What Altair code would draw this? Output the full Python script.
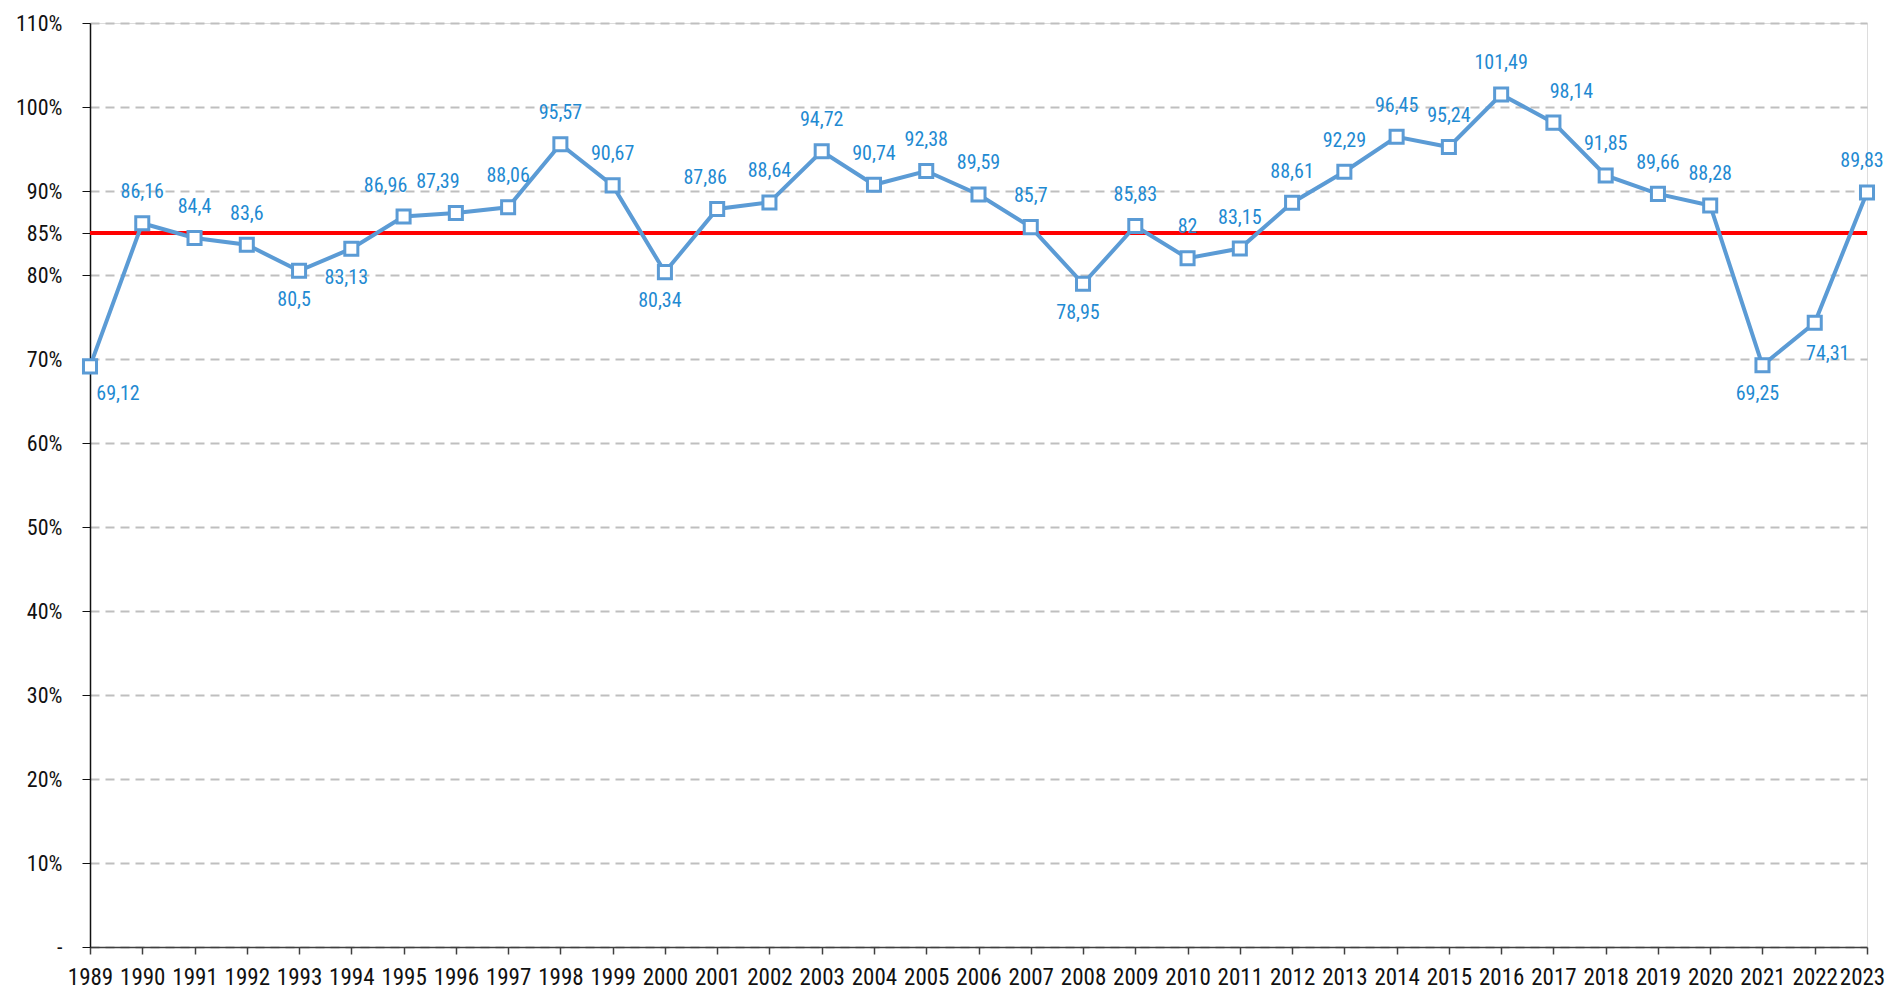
import altair as alt
import pandas as pd

years = list(range(1989, 2024))
values = [69.12, 86.16, 84.4, 83.6, 80.5, 83.13, 86.96, 87.39, 88.06, 95.57,
          90.67, 80.34, 87.86, 88.64, 94.72, 90.74, 92.38, 89.59, 85.7, 78.95,
          85.83, 82, 83.15, 88.61, 92.29, 96.45, 95.24, 101.49, 98.14, 91.85,
          89.66, 88.28, 69.25, 74.31, 89.83]
target = [85]
y_ticks = [0, 10, 20, 30, 40, 50, 60, 70, 80, 85, 90, 100, 110]

def fmt(v):
    return ('{:g}'.format(v)).replace('.', ',')

df = pd.DataFrame({'year': years, 'value': values,
                   'label': [fmt(v) for v in values]})
tdf = pd.DataFrame({'t': target})

FONT = "Liberation Sans Narrow, Arial Narrow, Roboto Condensed, DejaVu Sans Condensed, sans-serif"
BLUE = '#5b9bd5'
LBLUE = '#1f8ad2'

xs = alt.X('year:Q', scale=alt.Scale(domain=[1989, 2023], nice=False, zero=False),
           axis=alt.Axis(values=years, format='d', title=None, grid=False,
                         domainColor='#404040', domainWidth=1.5, tickColor='#404040',
                         tickSize=7, tickWidth=1.5, labelFontSize=23, labelFont=FONT,
                         labelColor='#111111', labelPadding=12, labelFlush=False,
                         labelOverlap=False,
                         labelOffset={"condition": {"test": "datum.value == 2023", "value": -5},
                                      "value": 0}))
ys = alt.Y('value:Q', scale=alt.Scale(domain=[0, 110], nice=False),
           axis=alt.Axis(values=y_ticks, title=None, grid=True, gridColor='#bfbfbf',
                         gridDash=[9, 6], gridWidth=1.8, domainColor='#111111',
                         domainWidth=1.5, tickColor='#111111', tickSize=8,
                         labelFontSize=22, labelFont=FONT, labelColor='#111111',
                         labelPadding=20,
                         labelExpr="datum.value == 0 ? '-\u00a0\u00a0' : datum.value + '%'"))

base = alt.Chart(df)

rule = alt.Chart(tdf).mark_rule(color='#ff0000', strokeWidth=4).encode(
    y=alt.Y('t:Q', scale=alt.Scale(domain=[0, 110], nice=False)))

line = base.mark_line(color=BLUE, strokeWidth=4).encode(x=xs, y=ys)
pts = base.mark_point(shape='square', filled=True, fill='white', stroke=BLUE,
                      strokeWidth=3, size=170, opacity=1).encode(x=xs, y=ys)

# label placement groups (years, dx, dy)
groups = [
    ([1993, 1994, 2000, 2008, 2021], -5, 29),
    ([1989], 28, 28),
    ([2022], 13, 31),
    ([1995, 1996], -18, -31),
    ([2001], -12, -31),
    ([2017], 18, -31),
    ([2023], -5, -31),
]
special = [y for g in groups for y in g[0]]
layers = [rule, line, pts]
for yrs, dx, dy in groups:
    layers.append(base.transform_filter(alt.FieldOneOfPredicate(field='year', oneOf=yrs))
                  .mark_text(font=FONT, fontSize=20, color=LBLUE, dx=dx, dy=dy)
                  .encode(x='year:Q', y='value:Q', text='label:N'))
layers.append(base.transform_filter(f"indexof({special}, datum.year) < 0")
              .mark_text(font=FONT, fontSize=20, color=LBLUE, dx=0, dy=-31)
              .encode(x='year:Q', y='value:Q', text='label:N'))

chart = alt.layer(*layers).properties(
    width=1777, height=924,
    autosize=alt.AutoSizeParams(type='none'),
    padding={'left': 82, 'top': 15, 'right': 19, 'bottom': 42},
).configure_view(stroke=None).configure(background='white')

chart.save("out.html", embed_options={"renderer": "svg", "actions": False})
